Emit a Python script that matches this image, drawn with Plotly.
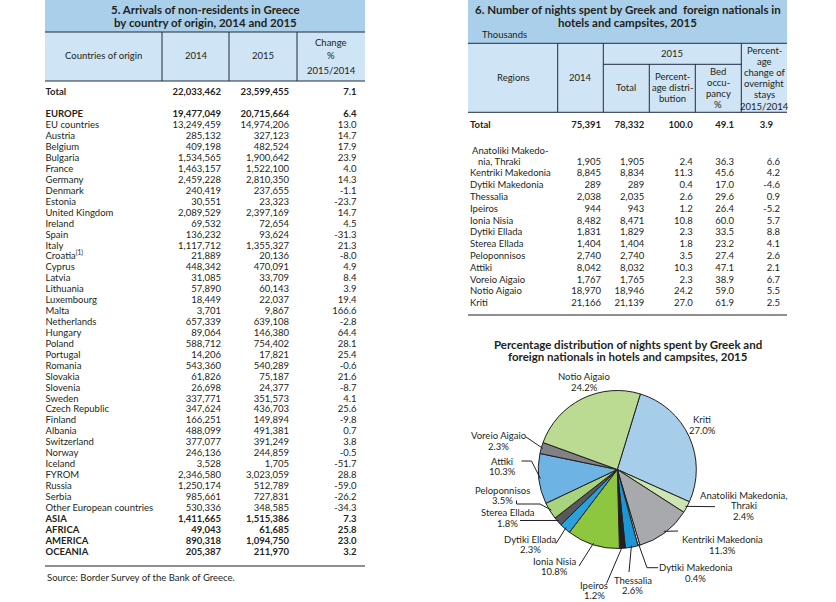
import math
import plotly.graph_objects as go

W, H = 836, 602
FONT = "Lato"
TXT = "#231f20"
LINE = "#1f2a44"
BAND = "#a9cfea"
HEAD = "#cfe4f4"

# ---------------- Table 5 data ----------------
t5_total_label = "Total"
t5_total_2014 = 22033462
t5_total_2015 = 23599455
t5_total_change = 7.1

countries = ["EUROPE", "EU countries", "Austria", "Belgium", "Bulgaria", "France", "Germany",
             "Denmark", "Estonia", "United Kingdom", "Ireland", "Spain", "Italy",
             "Croatia<sup>(1)</sup>", "Cyprus", "Latvia", "Lithuania", "Luxembourg", "Malta",
             "Netherlands", "Hungary", "Poland", "Portugal", "Romania", "Slovakia", "Slovenia",
             "Sweden", "Czech Republic", "Finland", "Albania", "Switzerland", "Norway", "Iceland",
             "FYROM", "Russia", "Serbia", "Other European countries", "ASIA", "AFRICA",
             "AMERICA", "OCEANIA"]
arrivals_2014 = [19477049, 13249459, 285132, 409198, 1534565, 1463157, 2459228, 240419, 30551,
                 2089529, 69532, 136232, 1117712, 21889, 448342, 31085, 57890, 18449, 3701,
                 657339, 89064, 588712, 14206, 543360, 61826, 26698, 337771, 347624, 166251,
                 488099, 377077, 246136, 3528, 2346580, 1250174, 985661, 530336, 1411665,
                 49043, 890318, 205387]
arrivals_2015 = [20715664, 14974206, 327123, 482524, 1900642, 1522100, 2810350, 237655, 23323,
                 2397169, 72654, 93624, 1355327, 20136, 470091, 33709, 60143, 22037, 9867,
                 639108, 146380, 754402, 17821, 540289, 75187, 24377, 351573, 436703, 149894,
                 491381, 391249, 244859, 1705, 3023059, 512789, 727831, 348585, 1515386,
                 61685, 1094750, 211970]
arrivals_change = [6.4, 13.0, 14.7, 17.9, 23.9, 4.0, 14.3, -1.1, -23.7, 14.7, 4.5, -31.3, 21.3,
                   -8.0, 4.9, 8.4, 3.9, 19.4, 166.6, -2.8, 64.4, 28.1, 25.4, -0.6, 21.6, -8.7,
                   4.1, 25.6, -9.8, 0.7, 3.8, -0.5, -51.7, 28.8, -59.0, -26.2, -34.3, 7.3,
                   25.8, 23.0, 3.2]
bold_groups = ["EUROPE", "ASIA", "AFRICA", "AMERICA", "OCEANIA"]

# ---------------- Table 6 data ----------------
t6_total = ["Total", 75391, 78332, 100.0, 49.1, 3.9]
regions = ["Anatoliki Makedonia, Thraki", "Kentriki Makedonia", "Dytiki Makedonia", "Thessalia",
           "Ipeiros", "Ionia Nisia", "Dytiki Ellada", "Sterea Ellada", "Peloponnisos", "Attiki",
           "Voreio Aigaio", "Notio Aigaio", "Kriti"]
nights_2014 = [1905, 8845, 289, 2038, 944, 8482, 1831, 1404, 2740, 8042, 1767, 18970, 21166]
nights_2015 = [1905, 8834, 289, 2035, 943, 8471, 1829, 1404, 2740, 8032, 1765, 18946, 21139]
pct_dist = [2.4, 11.3, 0.4, 2.6, 1.2, 10.8, 2.3, 1.8, 3.5, 10.3, 2.3, 24.2, 27.0]
bed_occupancy = [36.3, 45.6, 17.0, 29.6, 26.4, 60.0, 33.5, 23.2, 27.4, 47.1, 38.9, 59.0, 61.9]
pct_change = [6.6, 4.2, -4.6, 0.9, -5.2, 5.7, 8.8, 4.1, 2.6, 2.1, 6.7, 5.5, 2.5]

region_colors = ["#cce5b2", "#a7a9ac", "#f2f2f2", "#1c96d4", "#231f20", "#8dc63f", "#2aa1dc",
                 "#58595b", "#a9d47e", "#6db3e4", "#808285", "#badb91", "#a6cdea"]

fig = go.Figure()
shapes = []
annots = []


def rect(x0, y0, x1, y1, fill):
    shapes.append(dict(type="rect", xref="x", yref="y", x0=x0, y0=y0, x1=x1, y1=y1,
                       fillcolor=fill, line=dict(width=0), layer="below"))


def hline(x0, x1, y, color=LINE, w=1):
    shapes.append(dict(type="line", xref="x", yref="y", x0=x0, x1=x1, y0=y, y1=y,
                       line=dict(color=color, width=w)))


def vline(x, y0, y1, color=LINE, w=1):
    shapes.append(dict(type="line", xref="x", yref="y", x0=x, x1=x, y0=y0, y1=y1,
                       line=dict(color=color, width=w)))


def note(x, y, s, anchor="center", size=9.5, bold=False, color=TXT):
    annots.append(dict(x=x, y=y, xref="x", yref="y", text=("<b>%s</b>" % s) if bold else s,
                       showarrow=False, xanchor=anchor, yanchor="middle",
                       font=dict(family=FONT, size=size, color=color)))


def fmt_int(v):
    return "{:,}".format(v)


def fmt_1(v):
    return "{:.1f}".format(v)


def b(s, flag):
    return ("<b>%s</b>" % s) if flag else s


def col(xs, ys, texts, pos, size=9.5):
    fig.add_trace(go.Scatter(x=xs, y=ys, text=texts, mode="text", textposition=pos,
                             textfont=dict(family=FONT, size=size, color=TXT),
                             hoverinfo="skip", showlegend=False, xaxis="x", yaxis="y"))


# ================= Table 5 =================
L0, L1 = 45, 365
rect(L0, 0, L1, 32, BAND)
rect(L0, 32, L1, 81, HEAD)
hline(L0, L1, 32)
hline(L0, L1, 81)
for xv in [162, 229, 297]:
    vline(xv, 32, 81)
note(205, 9.5, "5. Arrivals of non-residents in Greece", size=11.5, bold=True)
note(205, 22.8, "by country of origin, 2014 and 2015", size=11.5, bold=True)
note(103.5, 55.5, "Countries of origin")
note(196, 55.5, "2014")
note(263, 55.5, "2015")
note(331, 42, "Change")
note(331, 55.5, "%")
note(331, 70, "2015/2014")

row_y5 = [93] + [115 + i * 10.93 for i in range(len(countries))]
isb = [True] + [c in bold_groups for c in countries]
lab5 = [b(s, f) for s, f in zip([t5_total_label] + countries, isb)]
v14 = [t5_total_2014] + arrivals_2014
v15 = [t5_total_2015] + arrivals_2015
vch = [t5_total_change] + arrivals_change

col([L0 + 0.5] * len(row_y5), row_y5, lab5, "middle right")
col([221] * len(row_y5), row_y5, [b(fmt_int(v), f) for v, f in zip(v14, isb)], "middle left")
col([289] * len(row_y5), row_y5, [b(fmt_int(v), f) for v, f in zip(v15, isb)], "middle left")
col([356.5] * len(row_y5), row_y5, [b(fmt_1(v), f) for v, f in zip(vch, isb)], "middle left")
hline(L0, L1, 566, color=TXT, w=1.2)
note(L0, 577, "Source: Border Survey of the Bank of Greece.", anchor="left")

# ================= Table 6 =================
R0, R1 = 468, 787
rect(R0, 0, R1, 43.3, BAND)
rect(R0, 43.3, R1, 112.3, HEAD)
hline(R0, R1, 43.3)
hline(R0, R1, 112.3)
for xv in [557.7, 603.3, 741.3]:
    vline(xv, 43.3, 112.3)
for xv in [649.3, 695.3]:
    vline(xv, 64.3, 112.3)
hline(603.3, 741.3, 64.3)
note(627.5, 9.3, "6. Number of nights spent by Greek and  foreign nationals in", size=11.5, bold=True)
note(627.5, 22.7, "hotels and campsites, 2015", size=11.5, bold=True)
note(480, 34.5, "Thousands", anchor="left")
note(513.3, 77.7, "Regions")
note(580.5, 77.7, "2014")
note(672.3, 53.5, "2015")
note(626.3, 87.7, "Total")
for k, s in enumerate(["Percent-", "age distri-", "bution"]):
    note(672.3, 76.3 + k * 11.3, s)
for k, s in enumerate(["Bed", "occu-", "pancy", "%"]):
    note(718.3, 71 + k * 11.1, s)
for k, s in enumerate(["Percent-", "age", "change of", "overnight", "stays", "2015/2014"]):
    note(764, 50 + k * 11.2, s)

row_y6 = [126] + [162.3 + i * 11.8 for i in range(len(regions))]
lab6 = ["<b>%s</b>" % t6_total[0]] + ["nia, Thraki"] + regions[1:]
labx6 = [R0 + 2] + [R0 + 10] + [R0 + 2] * (len(regions) - 1)
note(R0 + 2, 150, "Anatoliki Makedo-", anchor="left")
col(labx6, row_y6, lab6, "middle right")
isb6 = [True] + [False] * len(regions)
col([601] * len(row_y6), row_y6, [b(fmt_int(v), f) for v, f in zip([t6_total[1]] + nights_2014, isb6)], "middle left")
col([644.3] * len(row_y6), row_y6, [b(fmt_int(v), f) for v, f in zip([t6_total[2]] + nights_2015, isb6)], "middle left")
col([692.7] * len(row_y6), row_y6, [b(fmt_1(v), f) for v, f in zip([t6_total[3]] + pct_dist, isb6)], "middle left")
col([734] * len(row_y6), row_y6, [b(fmt_1(v), f) for v, f in zip([t6_total[4]] + bed_occupancy, isb6)], "middle left")
col([773] + [780] * len(regions), row_y6,
    [b(fmt_1(v), f) for v, f in zip([t6_total[5]] + pct_change, isb6)], "middle left")
hline(R0, R1, 315, color=TXT, w=1.2)

# ================= Pie =================
note(627.7, 344, "Percentage distribution of nights spent by Greek and", size=11.5, bold=True)
note(627.7, 356.7, "foreign nationals in hotels and campsites, 2015", size=11.5, bold=True)

CX, CY, RAD = 617.3, 469.5, 79
ROT = 17
order = [len(regions) - 1] + list(range(len(regions) - 1))
pie_labels = [regions[i] for i in order]
pie_vals = [pct_dist[i] for i in order]
pie_cols = [region_colors[i] for i in order]
fig.add_trace(go.Pie(labels=pie_labels, values=pie_vals, sort=False, direction="clockwise",
                     rotation=ROT, marker=dict(colors=pie_cols, line=dict(color=TXT, width=1)),
                     textinfo="none", hoverinfo="label+percent", showlegend=False,
                     domain=dict(x=[(CX - RAD) / W, (CX + RAD) / W],
                                 y=[1 - (CY + RAD) / H, 1 - (CY - RAD) / H])))

# label layout: center x, first line y, leader text-side points
label_layout = {
    "Notio Aigaio": (584, 376.7, None),
    "Kriti": (702, 419.3, None),
    "Voreio Aigaio": (498.5, 435.3, [(526, 437)]),
    "Attiki": (502, 461, [(521.5, 461), (531.5, 461)]),
    "Peloponnisos": (502, 490, [(516.5, 500.5), (516.5, 504), (540, 504)]),
    "Sterea Ellada": (507.5, 512.3, [(520, 520.5)]),
    "Dytiki Ellada": (530, 539, [(556, 543.5)]),
    "Ionia Nisia": (554, 561, [(579, 566)]),
    "Ipeiros": (594, 585, [(606.5, 583.5)]),
    "Thessalia": (632.6, 580, [(629, 572)]),
    "Dytiki Makedonia": (695.5, 567.7, [(658, 567.7), (647, 567.7)]),
    "Kentriki Makedonia": (722, 539.3, [(678, 531)]),
    "Anatoliki Makedonia, Thraki": (743.5, 495, [(715, 506.7)]),
}
total = sum(pie_vals)
cum = 0.0
for name, v in zip(pie_labels, pie_vals):
    mid = math.radians(ROT + (cum + v / 2) / total * 360)
    cum += v
    lx, ly, pts = label_layout[name]
    lines = name.replace(", ", ",|").split("|") + [fmt_1(v) + "%"]
    for k, s in enumerate(lines):
        note(lx, ly + k * 10.8, s, size=9.5)
    if pts:
        ex = CX + RAD * 0.98 * math.sin(mid)
        ey = CY - RAD * 0.98 * math.cos(mid)
        path_pts = pts + [(ex, ey)]
        d = "M %.2f %.2f " % path_pts[0] + " ".join("L %.2f %.2f" % p for p in path_pts[1:])
        shapes.append(dict(type="path", xref="x", yref="y", path=d,
                           line=dict(color=TXT, width=1)))

fig.update_layout(
    width=W, height=H, margin=dict(l=0, r=0, t=0, b=0),
    paper_bgcolor="white", plot_bgcolor="rgba(0,0,0,0)",
    xaxis=dict(range=[0, W], visible=False, fixedrange=True, domain=[0, 1]),
    yaxis=dict(range=[H, 0], visible=False, fixedrange=True, domain=[0, 1]),
    shapes=shapes, annotations=annots, font=dict(family=FONT, color=TXT),
)
fig.write_html("out.html", config={"displayModeBar": False},
               post_script="document.body.style.margin='0';document.body.style.overflow='hidden';")
